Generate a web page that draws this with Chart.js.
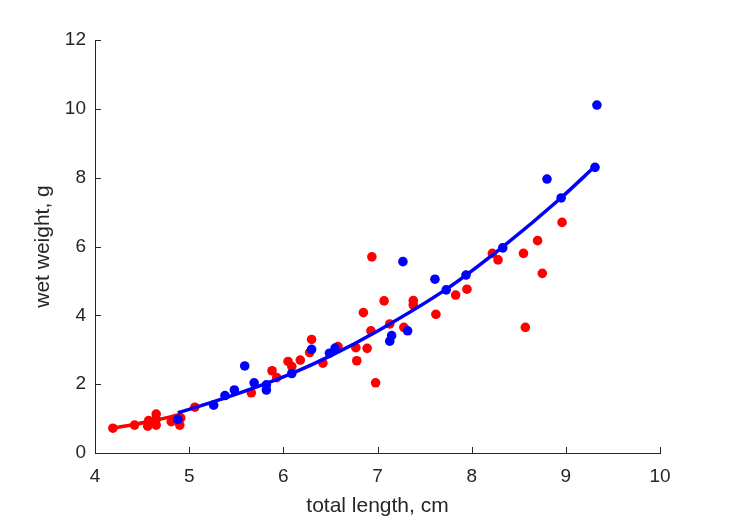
<!DOCTYPE html>
<html>
<head>
<meta charset="utf-8">
<script src="https://cdn.jsdelivr.net/npm/chart.js@4/dist/chart.umd.min.js"></script>
<style>
  html, body { margin: 0; padding: 0; background: #ffffff; }
  #wrap { width: 729px; height: 521px; }
</style>
</head>
<body>
<div id="wrap"><canvas id="lwChart"></canvas></div>
<script>
// measured specimens (red group)
const redLength = [4.19, 4.42, 4.56, 4.57, 4.65, 4.65, 4.65, 4.81, 4.90, 4.91, 5.06,
  5.66, 5.88, 5.93, 6.05, 6.09, 6.18, 6.30, 6.28, 6.42, 6.58, 6.77, 6.78, 6.89,
  6.85, 6.93, 6.94, 6.98, 7.07, 7.13, 7.28, 7.38, 7.38, 7.62, 7.83, 7.95,
  8.22, 8.28, 8.55, 8.57, 8.70, 8.75, 8.96];
const redWeight = [0.72, 0.81, 0.78, 0.94, 1.13, 0.98, 0.81, 0.91, 0.81, 1.02, 1.33,
  1.75, 2.39, 2.19, 2.66, 2.51, 2.70, 3.30, 2.92, 2.61, 3.09, 3.06, 2.68, 3.04,
  4.08, 3.55, 5.70, 2.04, 4.42, 3.75, 3.65, 4.43, 4.30, 4.03, 4.59, 4.76,
  5.80, 5.61, 5.80, 3.65, 6.17, 5.22, 6.70];

// measured specimens (blue group)
const blueLength = [4.88, 5.26, 5.38, 5.48, 5.59, 5.69, 5.82, 5.82, 6.09, 6.30, 6.49,
  6.55, 7.13, 7.15, 7.27, 7.32, 7.61, 7.73, 7.94, 8.33, 8.80, 8.95, 9.31, 9.33];
const blueWeight = [0.98, 1.39, 1.67, 1.83, 2.53, 2.04, 1.98, 1.83, 2.31, 3.01, 2.90,
  3.05, 3.25, 3.41, 5.56, 3.55, 5.05, 4.74, 5.17, 5.96, 7.96, 7.41, 8.30, 10.11];

// fitted curves
const redFitLength = [4.19, 4.40, 4.60, 4.80, 4.92];
const redFitWeight = [0.72, 0.82, 0.93, 1.05, 1.13];
const blueFitLength = [4.88, 5.36, 6.08, 6.50, 7.03, 7.73, 8.32, 8.96, 9.31];
const blueFitWeight = [1.17, 1.58, 2.30, 2.82, 3.59, 4.76, 5.97, 7.44, 8.33];

const xTicks = [4, 5, 6, 7, 8, 9, 10];
const yTicks = [0, 2, 4, 6, 8, 10, 12];

const axisColor = '#262626';
const fontFamily = '"Liberation Sans", Arial, Helvetica, sans-serif';

const toPoints = (xs, ys) => xs.map((x, i) => ({ x: x, y: ys[i] }));

// MATLAB style inward tick marks
const inwardTicks = {
  id: 'inwardTicks',
  afterDraw(chart) {
    const ctx = chart.ctx;
    const area = chart.chartArea;
    const xs = chart.scales.x;
    const ys = chart.scales.y;
    ctx.save();
    ctx.strokeStyle = axisColor;
    ctx.lineWidth = 1;
    ctx.beginPath();
    xTicks.forEach(v => {
      const px = Math.round(xs.getPixelForValue(v)) + 0.5;
      ctx.moveTo(px, area.bottom);
      ctx.lineTo(px, area.bottom - 6);
    });
    yTicks.forEach(v => {
      const py = Math.round(ys.getPixelForValue(v)) + 0.5;
      ctx.moveTo(area.left, py);
      ctx.lineTo(area.left + 6, py);
    });
    ctx.stroke();
    ctx.restore();
  }
};

new Chart(document.getElementById('lwChart').getContext('2d'), {
  type: 'scatter',
  data: {
    datasets: [
      {
        label: 'red',
        data: toPoints(redLength, redWeight),
        backgroundColor: '#ff0000',
        borderWidth: 0,
        pointRadius: 4.8,
        order: 4
      },
      {
        label: 'red fit',
        type: 'line',
        data: toPoints(redFitLength, redFitWeight),
        borderColor: '#ff0000',
        borderWidth: 3.5,
        pointRadius: 0,
        fill: false,
        cubicInterpolationMode: 'monotone',
        order: 3
      },
      {
        label: 'blue',
        data: toPoints(blueLength, blueWeight),
        backgroundColor: '#0000ff',
        borderWidth: 0,
        pointRadius: 4.8,
        order: 2
      },
      {
        label: 'blue fit',
        type: 'line',
        data: toPoints(blueFitLength, blueFitWeight),
        borderColor: '#0000ff',
        borderWidth: 3.5,
        pointRadius: 0,
        fill: false,
        cubicInterpolationMode: 'monotone',
        order: 1
      }
    ]
  },
  options: {
    responsive: true,
    maintainAspectRatio: false,
    animation: false,
    layout: { padding: { left: 0, top: 40, right: 69, bottom: 0 } },
    plugins: {
      legend: { display: false },
      tooltip: { enabled: false }
    },
    scales: {
      x: {
        type: 'linear',
        min: 4,
        max: 10,
        afterFit: s => { s.height = 68; },
        afterBuildTicks: s => { s.ticks = xTicks.map(v => ({ value: v })); },
        grid: { display: false, drawTicks: false },
        border: { display: true, color: axisColor, width: 1 },
        ticks: { color: axisColor, padding: 12, font: { family: fontFamily, size: 19 } },
        title: {
          display: true,
          text: 'total length, cm',
          color: axisColor,
          font: { family: fontFamily, size: 21 },
          padding: { top: 0, bottom: 2 }
        }
      },
      y: {
        type: 'linear',
        min: 0,
        max: 12,
        afterFit: s => { s.width = 95; },
        afterBuildTicks: s => { s.ticks = yTicks.map(v => ({ value: v })); },
        grid: { display: false, drawTicks: false },
        border: { display: true, color: axisColor, width: 1 },
        ticks: { color: axisColor, padding: 9, font: { family: fontFamily, size: 19 } },
        title: {
          display: true,
          text: 'wet weight, g',
          color: axisColor,
          font: { family: fontFamily, size: 21 },
          padding: { top: 31, bottom: 0 }
        }
      }
    }
  },
  plugins: [inwardTicks]
});
</script>
</body>
</html>
